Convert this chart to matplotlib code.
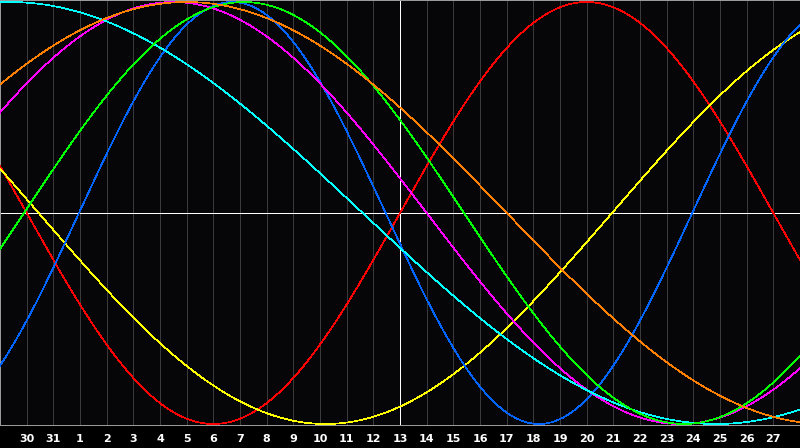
import numpy as np
import matplotlib
matplotlib.use("Agg")
import matplotlib.pyplot as plt

# Day labels at each vertical grid line (positions 1..29 on a 0..30 day axis)
day_labels = ["30", "31"] + [str(d) for d in range(1, 28)]

# Biorhythm cycles: period (days) and day position of the rising zero crossing
cycle_names = ["emotional", "aesthetic", "intellectual", "physical",
               "spiritual", "intuitive", "awareness"]
periods = [28, 43, 33, 23, 53, 38, 48]
rising_zero = [15.0, 22.95, 0.9, 2.96, -12.9, -3.0, -5.0]
colors = ["#ff0000", "#ffff00", "#00ff00", "#0064ff", "#00ffff", "#ff00ff", "#ff8000"]
draw_order = [0, 1, 3, 5, 4, 2, 6]

W, H, DPI = 800, 448, 100
fig = plt.figure(figsize=(W / DPI, H / DPI), dpi=DPI, facecolor="#000000")
plot_h = 425
ax = fig.add_axes([0, (H - plot_h) / H, 1, plot_h / H])
ax.set_facecolor("#060609")

amp_px = 211.0
ax.set_xlim(0, 30)
ax.set_ylim(-1 - 1 / amp_px, 1 + 2 / amp_px)

# vertical day grid lines
for i in range(1, 30):
    ax.axvline(i, color="#3a3a3a", lw=0.5, zorder=1, antialiased=False)

# center cross
ax.axhline(0, color="#ffffff", lw=0.5, zorder=2, antialiased=False)
ax.axvline(15, color="#ffffff", lw=0.5, zorder=2, antialiased=False)

x = np.linspace(0, 30, 1600)
for k in draw_order:
    y = np.sin(2 * np.pi * (x - rising_zero[k]) / periods[k])
    ax.plot(x, y, color=colors[k], lw=0.5, zorder=3 + draw_order.index(k),
            antialiased=False, label=cycle_names[k])

for s in ax.spines.values():
    s.set_color("#9a9a9a")
    s.set_linewidth(0.6)
    s.set_antialiased(False)

ax.set_yticks([])
ax.set_xticks(range(1, 30))
ax.set_xticklabels(day_labels, color="#ffffff", fontweight="bold", fontsize=8)
ax.tick_params(axis="x", length=0, pad=6.5)

fig.savefig("out.png", dpi=DPI, facecolor="#000000")
